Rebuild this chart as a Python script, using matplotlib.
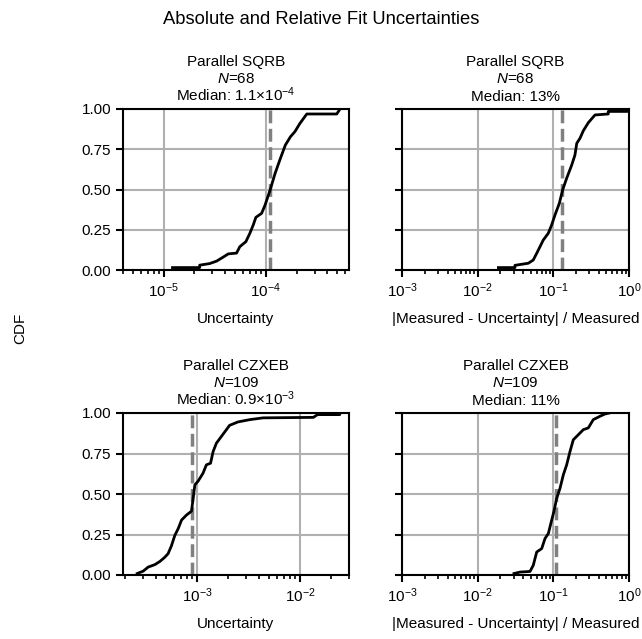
import matplotlib
matplotlib.use("Agg")
import matplotlib.pyplot as plt

# ---------------------------------------------------------------------------
# Data: CDF knots (value, cumulative fraction)
# ---------------------------------------------------------------------------
sqrb_abs_x = [1.22e-5, 2.25e-5, 2.25e-5, 2.82e-5, 3.29e-5, 3.82e-5, 4.28e-5,
              5.16e-5, 5.56e-5, 6.37e-5, 6.97e-5, 7.52e-5, 7.98e-5, 9.08e-5,
              9.77e-5, 1.10e-4, 1.23e-4, 1.38e-4, 1.55e-4, 1.74e-4, 1.92e-4,
              2.15e-4, 2.51e-4, 4.93e-4, 5.31e-4]
sqrb_abs_y = [0.015, 0.015, 0.03, 0.04, 0.055, 0.08, 0.10,
              0.105, 0.145, 0.176, 0.228, 0.28, 0.327, 0.352,
              0.40, 0.497, 0.60, 0.69, 0.776, 0.828, 0.859,
              0.91, 0.969, 0.969, 1.0]

sqrb_rel_x = [0.0188, 0.0311, 0.0311, 0.0467, 0.0543, 0.0603, 0.0667,
              0.0736, 0.0857, 0.0951, 0.1052, 0.120, 0.1327, 0.150,
              0.175, 0.193, 0.204, 0.225, 0.249, 0.290, 0.355,
              0.532, 0.532, 0.95, 0.97]
sqrb_rel_y = [0.015, 0.015, 0.029, 0.042, 0.062, 0.104, 0.145,
              0.186, 0.228, 0.28, 0.342, 0.414, 0.497, 0.57,
              0.652, 0.714, 0.787, 0.818, 0.865, 0.915, 0.963,
              0.969, 0.985, 0.985, 1.0]

czxeb_abs_x = [2.61e-4, 2.99e-4, 3.34e-4, 3.88e-4, 4.35e-4, 4.85e-4, 5.22e-4,
               5.62e-4, 6.07e-4, 6.55e-4, 7.05e-4, 7.87e-4, 8.81e-4, 9.14e-4,
               9.50e-4, 1.023e-3, 1.14e-3, 1.23e-3, 1.35e-3, 1.43e-3, 1.54e-3,
               1.72e-3, 2.07e-3, 2.50e-3, 3.25e-3, 4.38e-3, 1.35e-2, 1.48e-2,
               2.44e-2, 2.44e-2]
czxeb_abs_y = [0.009, 0.024, 0.049, 0.064, 0.084, 0.11, 0.132,
               0.18, 0.245, 0.287, 0.339, 0.37, 0.394, 0.473,
               0.556, 0.58, 0.628, 0.68, 0.69, 0.762, 0.814,
               0.855, 0.924, 0.945, 0.959, 0.97, 0.973, 0.99,
               0.99, 1.0]

czxeb_rel_x = [0.0302, 0.0362, 0.0492, 0.0543, 0.0603, 0.0702, 0.0776,
               0.0859, 0.0951, 0.102, 0.1107, 0.1225, 0.1355, 0.150,
               0.166, 0.1837, 0.214, 0.249, 0.290, 0.337, 0.414,
               0.482, 0.55]
czxeb_rel_y = [0.009, 0.018, 0.022, 0.06, 0.142, 0.163, 0.225,
               0.256, 0.339, 0.394, 0.473, 0.535, 0.618, 0.68,
               0.762, 0.835, 0.866, 0.897, 0.908, 0.959, 0.98,
               0.994, 1.0]

medians = [1.1e-4, 0.13, 0.9e-3, 0.11]
panel_names = ["Parallel SQRB", "Parallel SQRB", "Parallel CZXEB", "Parallel CZXEB"]
panel_n = [68, 68, 109, 109]
median_labels = ["$1.1{\\times}10^{-4}$", "13%", "$0.9{\\times}10^{-3}$", "11%"]
xlabels = ["Uncertainty", "|Measured - Uncertainty| / Measured"] * 2
xlims = [(4e-6, 6.5e-4), (1e-3, 1), (1.9e-4, 3.0e-2), (1e-3, 1)]

curves = [(sqrb_abs_x, sqrb_abs_y), (sqrb_rel_x, sqrb_rel_y),
          (czxeb_abs_x, czxeb_abs_y), (czxeb_rel_x, czxeb_rel_y)]

# ---------------------------------------------------------------------------
# Style
# ---------------------------------------------------------------------------
plt.rcParams["font.family"] = ["Liberation Sans", "DejaVu Sans"]
plt.rcParams["mathtext.fontset"] = "custom"
plt.rcParams["mathtext.rm"] = "Liberation Sans"
plt.rcParams["mathtext.it"] = "Liberation Sans:italic"
plt.rcParams["font.size"] = 11
plt.rcParams["axes.linewidth"] = 1.5

fig = plt.figure(figsize=(6.42, 6.39), dpi=100)
W, H = 642, 639
# axes boxes in pixels: left, top, right, bottom
boxes = [(123, 109, 349, 270), (402, 109, 629, 270),
         (123, 413, 349, 575), (402, 413, 629, 575)]

for i, (x0, y0, x1, y1) in enumerate(boxes):
    ax = fig.add_axes([x0 / W, 1 - y1 / H, (x1 - x0) / W, (y1 - y0) / H])
    xs, ys = curves[i]
    ax.plot(xs, ys, color="black", linewidth=2, zorder=3)
    ax.axvline(medians[i], color="gray", linestyle="--", linewidth=2.5, zorder=2)
    ax.set_xscale("log")
    ax.set_xlim(*xlims[i])
    ax.set_ylim(0, 1)
    ax.set_yticks([0, 0.25, 0.5, 0.75, 1.0])
    if i % 2 == 0:
        ax.set_yticklabels(["0.00", "0.25", "0.50", "0.75", "1.00"])
    else:
        ax.set_yticklabels([])
    ax.grid(True, which="major", color="#b0b0b0", linewidth=1.5)
    ax.set_axisbelow(True)
    ax.tick_params(which="major", length=5, width=1.5, labelsize=11)
    ax.tick_params(which="minor", length=3, width=1.2)
    ax.set_xlabel(xlabels[i], fontsize=11, labelpad=8)

    # three-line title, one line at a time so every panel lines up
    lines = [panel_names[i], f"$N$={panel_n[i]}", f"Median: {median_labels[i]}"]
    for k, line in enumerate(lines):
        ax.annotate(line, xy=(0.5, 1), xycoords="axes fraction",
                    xytext=(0, 6 + 12.5 * (2 - k)), textcoords="offset points",
                    ha="center", va="baseline", fontsize=11)

fig.suptitle("Absolute and Relative Fit Uncertainties", y=1 - 20 / H,
             va="center", fontsize=13.2)
fig.text(20 / W, 1 - 328 / H, "CDF", rotation=90, ha="center", va="center",
         fontsize=11)

fig.savefig("out.png", dpi=100)
